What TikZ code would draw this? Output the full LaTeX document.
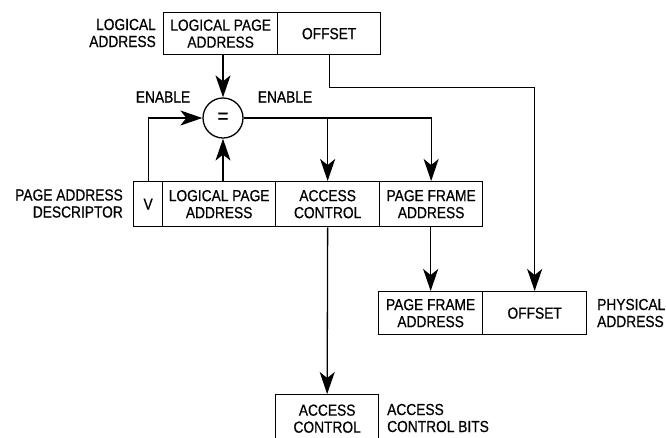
\documentclass[tikz,border=0pt]{standalone}
\usepackage{fontspec}
\setmainfont{Liberation Sans}[FakeStretch=0.86,FakeBold=0.6]
\usetikzlibrary{arrows.meta,calc}
\begin{document}
\begin{tikzpicture}[x=1pt,y=-1pt,
  every node/.style={font=\fontsize{16}{17}\selectfont},
  fld/.style={draw,line width=1.3pt,rectangle,inner sep=0pt,align=center,anchor=north west},
  lbl/.style={align=right,inner sep=0pt},
  lbll/.style={align=left,inner sep=0pt},
  arr/.style={line width=1.3pt,-{Stealth[length=22pt,width=15pt,inset=6pt]}}]
\useasboundingbox (0,0) rectangle (666,437);
\clip (0,0) rectangle (666,437);
% logical address
\node[fld,minimum width=114pt,minimum height=42pt] (LA1) at (163,12) {LOGICAL PAGE\\ADDRESS};
\node[fld,minimum width=103pt,minimum height=42pt] (LA2) at (277,12) {OFFSET};
\node[lbl,anchor=east] (LAL) at (156,33) {LOGICAL\\ADDRESS};
% comparator
\node[draw,circle,line width=1.3pt,minimum size=40pt,inner sep=0pt,font=\fontsize{22}{22}\selectfont] (eq) at (223,118) {=};
\node[inner sep=0pt] (en1) at (163,97) {ENABLE};
\node[inner sep=0pt] (en2) at (285,97) {ENABLE};
% descriptor
\node[fld,minimum width=29pt,minimum height=45pt] (V) at (133,181) {V};
\node[fld,minimum width=113pt,minimum height=45pt] (LPA) at (162,181) {LOGICAL PAGE\\ADDRESS};
\node[fld,minimum width=104pt,minimum height=45pt] (AC) at (275,181) {ACCESS\\CONTROL};
\node[fld,minimum width=103pt,minimum height=45pt] (PFA) at (379,181) {PAGE FRAME\\ADDRESS};
\node[lbl,anchor=east] (PADL) at (123,203.5) {PAGE ADDRESS\\DESCRIPTOR};
% physical address
\node[fld,minimum width=104pt,minimum height=43pt] (PFA2) at (378,291) {PAGE FRAME\\ADDRESS};
\node[fld,minimum width=104pt,minimum height=43pt] (OFF2) at (482,291) {OFFSET};
\node[lbll,anchor=west] (PAL) at (597,313) {PHYSICAL\\ADDRESS};
% access control
\node[fld,minimum width=103pt,minimum height=48pt] (AC2) at (275,394) {ACCESS\\CONTROL};
\node[lbll,anchor=west] (ACL) at (387,418) {ACCESS\\CONTROL BITS};
% connectors
\draw[arr] (LA1.south -| eq) -- (eq.north);
\draw[arr] (LPA.north -| eq) -- (eq.south);
\draw[arr] (V.north) |- (eq.west);
\draw[arr] (eq.east) -| (PFA.north);
\draw[arr] (AC.north |- eq.east) -- (AC.north);
\coordinate (bend) at ($(LA2.south)+(0,32)$);
\draw[arr] (LA2.south) -- (bend) -| (OFF2.north);
\draw[arr] (PFA.south -| PFA2) -- (PFA2.north);
\draw[arr] (AC.south) -- (AC2.north);
\end{tikzpicture}
\end{document}
